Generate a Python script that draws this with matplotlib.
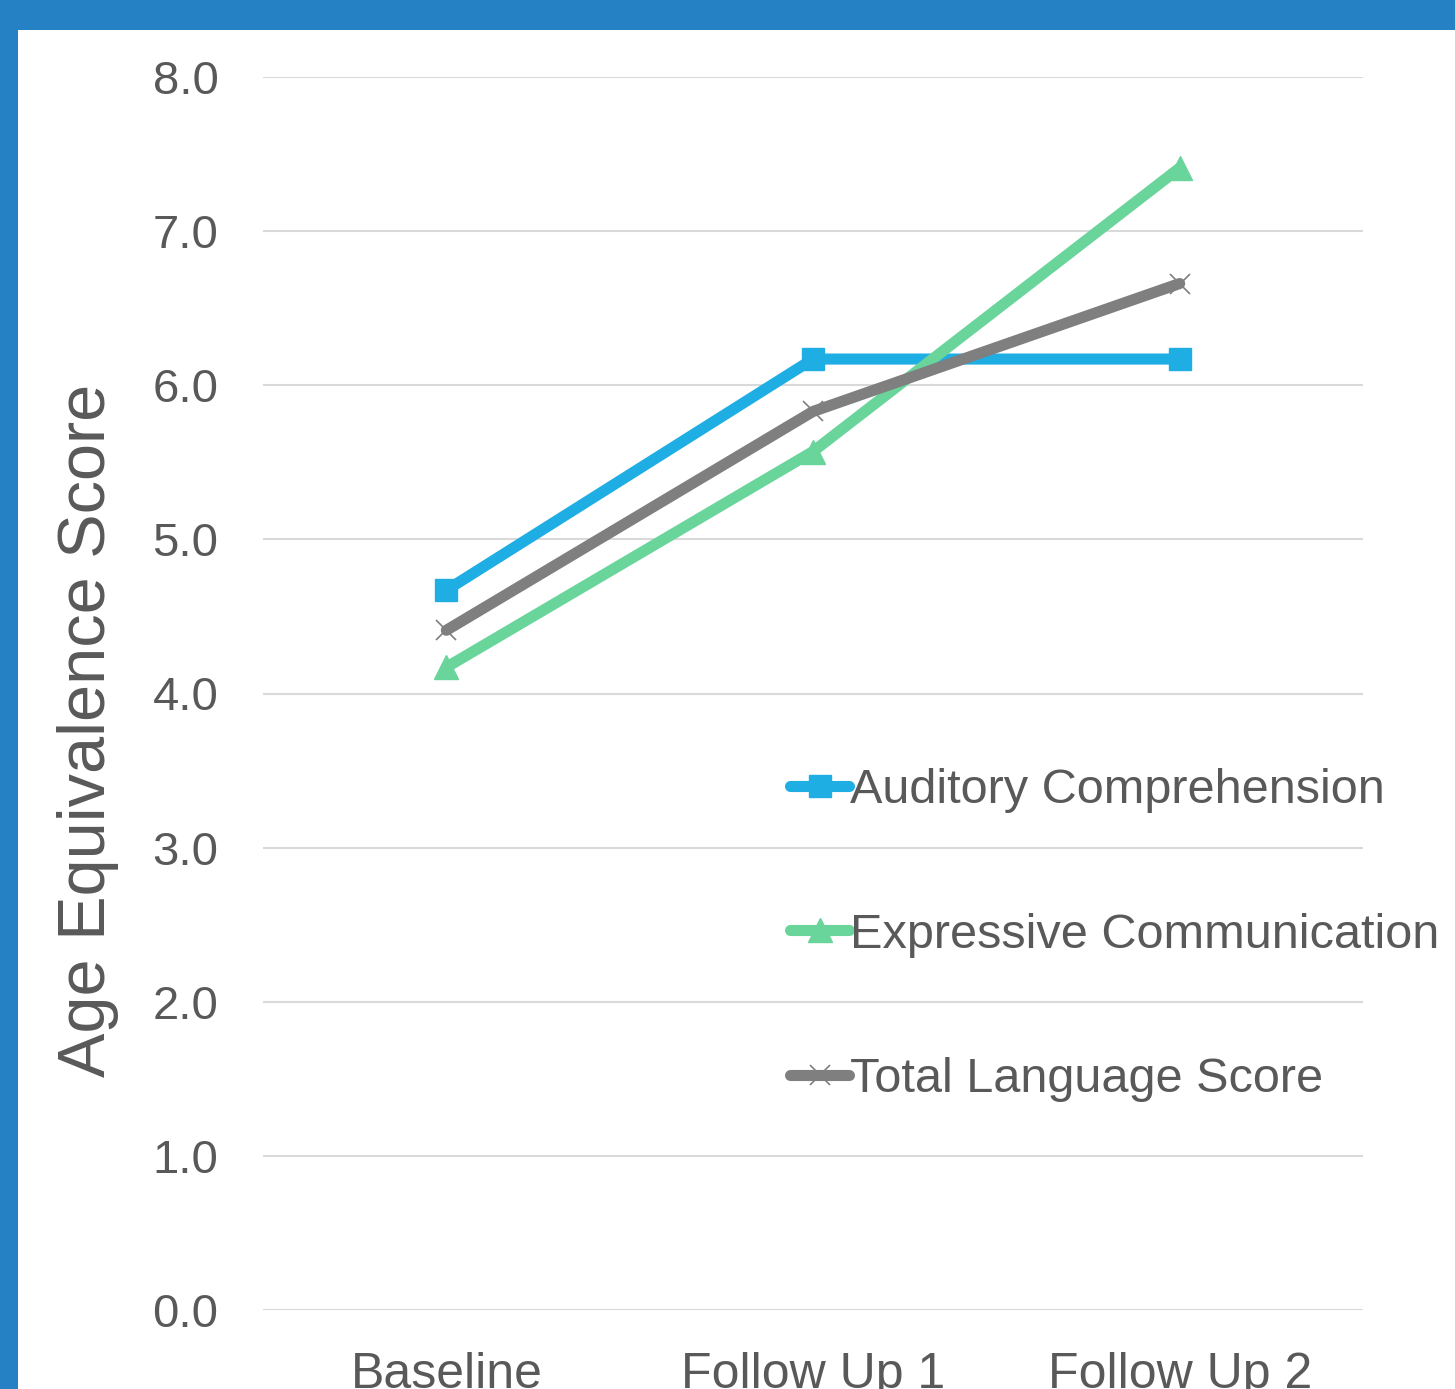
import matplotlib
matplotlib.use("Agg")
import matplotlib.pyplot as plt
from matplotlib.patches import Rectangle

plt.rcParams['font.family'] = ['Liberation Sans', 'DejaVu Sans']

# Data
stages = ["Baseline", "Follow Up 1", "Follow Up 2"]
auditory = [4.67, 6.17, 6.17]
expressive = [4.17, 5.57, 7.41]
total = [4.41, 5.83, 6.66]
y_ticks = [0.0, 1.0, 2.0, 3.0, 4.0, 5.0, 6.0, 7.0, 8.0]

W, H = 1455, 1389
fig = plt.figure(figsize=(W / 100, H / 100), dpi=100)
fig.patch.set_facecolor("white")

# Blue frame along the top and left edges
frame_blue = "#2581C4"
fig.patches.append(Rectangle((0, 1 - 30 / H), 1, 30 / H, transform=fig.transFigure,
                             facecolor=frame_blue, edgecolor="none", zorder=0))
fig.patches.append(Rectangle((0, 0), 18 / W, 1, transform=fig.transFigure,
                             facecolor=frame_blue, edgecolor="none", zorder=0))

left, right = 263 / W, 1363 / W
bottom, top = 1 - 1310 / H, 1 - 77 / H
ax = fig.add_axes([left, bottom, right - left, top - bottom])
ax.set_facecolor("none")

text_color = "#595959"
x = list(range(len(stages)))

lw = 8
ax.plot(x, auditory, color="#1FAEE4", lw=lw, marker="s", ms=16,
        solid_capstyle="round", solid_joinstyle="round", label="Auditory Comprehension", zorder=3)
ax.plot(x, expressive, color="#69D59B", lw=lw, marker="^", ms=17,
        solid_capstyle="round", solid_joinstyle="round", label="Expressive Communication", zorder=3)
ax.plot(x, total, color="#7F7F7F", lw=lw, marker="x", ms=15, mew=1.2,
        solid_capstyle="round", solid_joinstyle="round", label="Total Language Score", zorder=3)

ax.set_xlim(-0.5, 2.5)
ax.set_ylim(0, 8)
ax.set_yticks(y_ticks)
ax.set_yticklabels([f"{v:.1f}" for v in y_ticks])
ax.set_xticks(x)
ax.set_xticklabels(stages)
ax.grid(axis="y", color="#D9D9D9", lw=1.5, zorder=0)
ax.set_axisbelow(True)
for s in ax.spines.values():
    s.set_visible(False)
ax.tick_params(axis="y", length=0, pad=32, labelsize=34, labelcolor=text_color)
ax.tick_params(axis="x", length=0, pad=30, labelsize=36, labelcolor=text_color)

fig.text(88 / W, 1 - 730 / H, "Age Equivalence Score", rotation=90, ha="center", va="center",
         fontsize=48, color=text_color)

leg = ax.legend(loc="center left", bbox_to_anchor=(790 / W, 1 - 935 / H),
                bbox_transform=fig.transFigure, frameon=False, fontsize=35,
                handlelength=1.22, handletextpad=0.02, borderpad=0, borderaxespad=0,
                labelspacing=2.05)
for t in leg.get_texts():
    t.set_color(text_color)

fig.savefig("out.png", dpi=100)
